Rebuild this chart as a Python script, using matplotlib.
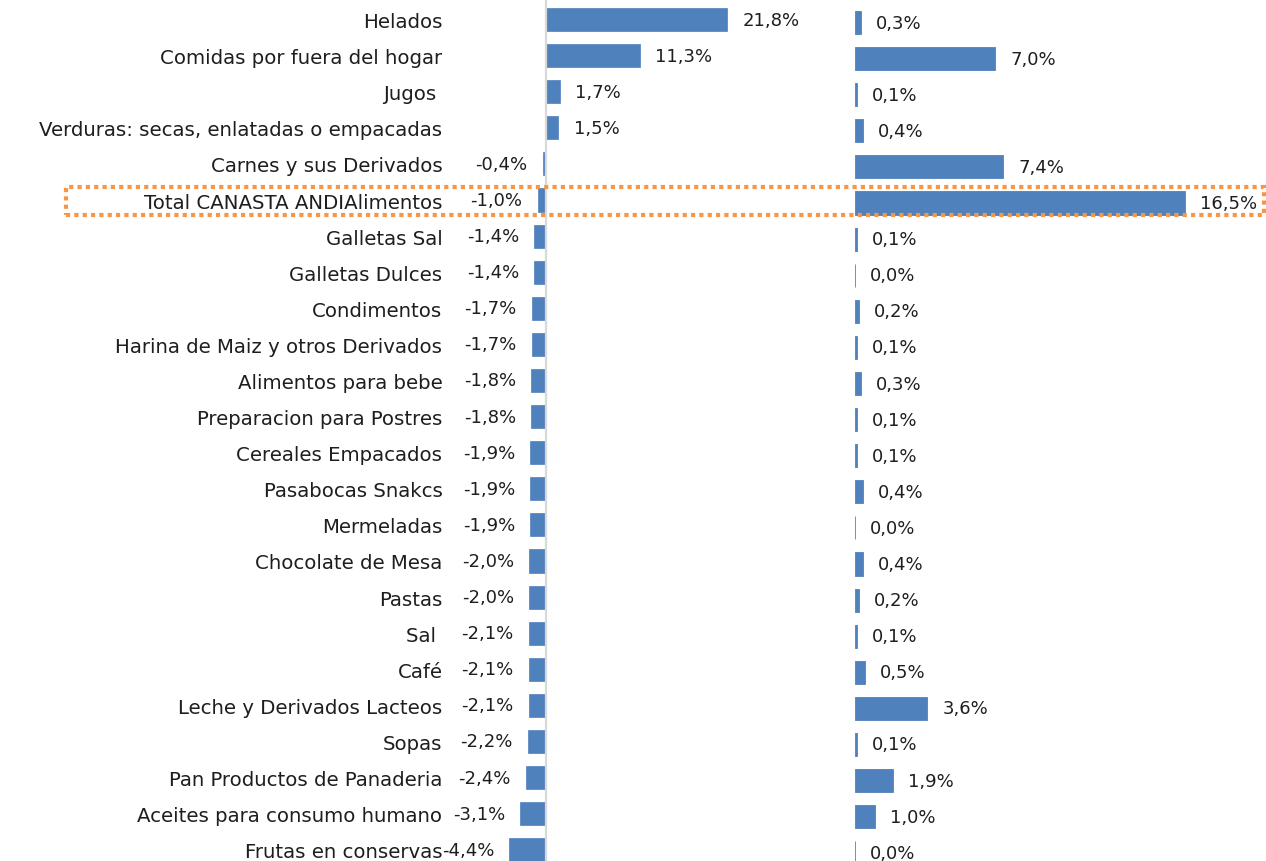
import matplotlib
matplotlib.use("Agg")
import matplotlib.pyplot as plt
from matplotlib.patches import Rectangle

categories = ["Helados", "Comidas por fuera del hogar", "Jugos ", "Verduras: secas, enlatadas o empacadas",
              "Carnes y sus Derivados", "Total CANASTA ANDIAlimentos", "Galletas Sal", "Galletas Dulces",
              "Condimentos", "Harina de Maiz y otros Derivados", "Alimentos para bebe",
              "Preparacion para Postres", "Cereales Empacados", "Pasabocas Snakcs", "Mermeladas",
              "Chocolate de Mesa", "Pastas", "Sal ", "Café", "Leche y Derivados Lacteos", "Sopas",
              "Pan Productos de Panaderia", "Aceites para consumo humano", "Frutas en conservas"]
left_values = [21.8, 11.3, 1.7, 1.5, -0.4, -1.0, -1.4, -1.4, -1.7, -1.7, -1.8, -1.8, -1.9, -1.9,
               -1.9, -2.0, -2.0, -2.1, -2.1, -2.1, -2.2, -2.4, -3.1, -4.4]
right_values = [0.3, 7.0, 0.1, 0.4, 7.4, 16.5, 0.1, 0.0, 0.2, 0.1, 0.3, 0.1, 0.1, 0.4, 0.0, 0.4,
                0.2, 0.1, 0.5, 3.6, 0.1, 1.9, 1.0, 0.0]
highlight = "Total CANASTA ANDIAlimentos"

W, H = 1266, 862
BLUE = "#4f81bd"
TEXT = "#1e1e1e"
plt.rcParams["font.family"] = ["DejaVu Sans"]
plt.rcParams["font.size"] = 13


def fmt(v):
    return ("%.1f%%" % v).replace(".", ",")


def px_axes(fig, x0, x1, y_top, y_bot):
    # axes rectangle given in pixel coordinates (y from top)
    return fig.add_axes([x0 / W, 1 - y_bot / H, (x1 - x0) / W, (y_bot - y_top) / H])


fig = plt.figure(figsize=(W / 100, H / 100), dpi=100)
n = len(categories)
row = 36.1
pos = list(range(n))

# left panel: zero at 546 px, 8.3 px per %
ax1 = px_axes(fig, 448, 830, 20.5 - row / 2, 20.5 + (n - 0.5) * row)
bars = ax1.barh(pos, left_values, height=0.64, color=BLUE, edgecolor=BLUE, lw=0.5)
ax1.bar_label(bars, labels=[fmt(v) for v in left_values], padding=11, color=TEXT, fontsize=13)
ax1.set_xlim(-98 / 8.3, 284 / 8.3)
ax1.set_ylim(n - 0.5, -0.5)
ax1.set_yticks(pos)
ax1.set_yticklabels(categories, color=TEXT, fontsize=14.2)
ax1.tick_params(axis="y", length=0, pad=4)
ax1.set_xticks([])
ax1.axvline(0, color="#d9d9d9", lw=1.6, ymin=-1, ymax=2, clip_on=False)
for s in ax1.spines.values():
    s.set_visible(False)

# right panel: zero at 855 px, 20 px per %
ax2 = px_axes(fig, 855, 1266, 23.5 - row / 2, 23.5 + (n - 0.5) * row)
bars2 = ax2.barh(pos, right_values, height=0.64, color=BLUE, edgecolor=BLUE, lw=0.6)
ax2.bar_label(bars2, labels=[fmt(v) for v in right_values], padding=11, color=TEXT, fontsize=13)
ax2.set_xlim(0, 411 / 20)
ax2.set_ylim(n - 0.5, -0.5)
ax2.set_xticks([])
ax2.set_yticks([])
for s in ax2.spines.values():
    s.set_visible(False)

# dotted highlight box around the total row
hi = categories.index(highlight)
yc = 20.5 + hi * row + 1
fig.patches.append(Rectangle((66 / W, 1 - (yc + 14) / H), (1198) / W, 28 / H,
                             transform=fig.transFigure, fill=False, edgecolor="#f79646",
                             lw=3, linestyle=(0, (1, 1))))

fig.savefig("out.png", dpi=100)
